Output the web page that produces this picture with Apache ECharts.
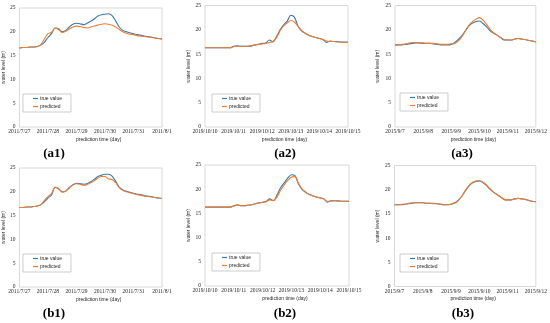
<!DOCTYPE html>
<html><head><meta charset="utf-8">
<script src="https://cdn.jsdelivr.net/npm/echarts@6/dist/echarts.min.js"></script>
<style>html,body{margin:0;padding:0;background:#fff}#c{width:550px;height:323px}</style>
</head><body><div id="c"></div>
<script>
// time step between samples: 3 hours (1/8 day)
const stepDay = 0.125;
const datesA1 = ['2011/7/27','2011/7/28','2011/7/29','2011/7/30','2011/7/31','2011/8/1'];
const datesA2 = ['2019/10/10','2019/10/11','2019/10/12','2019/10/13','2019/10/14','2019/10/15'];
const datesA3 = ['2015/9/7','2015/9/8','2015/9/9','2015/9/10','2015/9/11','2015/9/12'];
const yTicks = [0,5,10,15,20,25];

const a1True = [16.6,16.7,16.7,16.8,16.8,16.9,17.2,17.8,18.8,19.6,20.8,20.5,20.0,20.3,21.0,21.6,21.8,21.7,21.5,21.8,22.2,22.7,23.3,23.6,23.7,23.8,23.4,22.3,21.0,20.3,20.0,19.8,19.6,19.4,19.3,19.1,19.0,18.9,18.7,18.6,18.5];
const a1Pred = [16.6,16.7,16.7,16.8,16.8,16.9,17.3,18.5,19.6,19.9,20.8,20.7,19.8,20.1,20.6,21.0,21.2,21.1,20.9,20.8,21.0,21.2,21.4,21.6,21.7,21.6,21.4,21.0,20.5,20.0,19.7,19.5,19.4,19.2,19.1,19.0,18.9,18.8,18.7,18.6,18.5];
const a2True = [16.3,16.3,16.3,16.3,16.3,16.3,16.3,16.3,16.6,16.7,16.6,16.6,16.6,16.7,16.9,17.0,17.2,17.3,17.9,17.5,18.6,20.0,21.0,21.8,23.0,22.6,20.8,19.8,19.3,18.9,18.6,18.4,18.2,18.0,17.4,17.7,17.6,17.6,17.5,17.5,17.5];
const a2Pred = [16.3,16.3,16.3,16.3,16.3,16.3,16.3,16.3,16.5,16.6,16.6,16.6,16.6,16.7,16.9,17.0,17.1,17.2,17.4,17.6,18.4,19.8,20.8,21.4,21.9,21.6,20.7,19.9,19.3,18.9,18.6,18.4,18.2,18.0,17.7,17.6,17.6,17.5,17.5,17.4,17.4];
const a3True = [16.9,16.9,16.9,17.0,17.1,17.2,17.3,17.3,17.2,17.2,17.2,17.1,17.0,16.9,16.9,16.9,17.0,17.4,18.0,18.8,19.8,20.8,21.4,21.7,21.8,21.3,20.6,19.8,19.3,18.9,18.4,17.9,17.9,17.9,18.1,18.2,18.1,18.0,17.8,17.7,17.5];
const a3Pred = [16.9,16.9,17.0,17.1,17.3,17.4,17.4,17.3,17.3,17.2,17.2,17.2,17.1,17.0,17.0,17.0,17.1,17.2,17.7,18.6,19.8,20.9,21.7,22.2,22.5,22.0,21.1,20.1,19.4,18.9,18.4,18.0,17.9,17.9,18.1,18.2,18.1,18.0,17.8,17.7,17.5];
const b1True = [16.7,16.7,16.8,16.8,16.9,17.0,17.3,17.9,18.7,19.3,20.9,20.6,20.0,20.2,20.9,21.5,21.8,21.7,21.6,21.7,22.1,22.6,23.2,23.5,23.7,23.7,23.3,22.2,21.0,20.4,20.1,19.9,19.7,19.5,19.4,19.2,19.1,19.0,18.8,18.7,18.6];
const b1Pred = [16.7,16.7,16.8,16.8,16.9,17.0,17.3,18.2,19.0,19.6,21.0,20.7,19.9,20.1,20.8,21.4,21.7,21.6,21.4,21.5,21.9,22.3,22.9,23.2,23.2,22.7,22.6,21.9,20.9,20.3,20.0,19.8,19.6,19.4,19.3,19.1,19.0,18.9,18.8,18.7,18.6];
const b2True = [16.3,16.3,16.3,16.3,16.3,16.3,16.3,16.3,16.6,16.8,16.6,16.6,16.7,16.8,17.0,17.2,17.3,17.5,18.0,17.6,18.8,20.3,21.3,22.3,23.0,22.8,21.0,19.9,19.3,18.9,18.6,18.4,18.2,18.0,17.3,17.6,17.6,17.6,17.5,17.5,17.5];
const b2Pred = [16.3,16.3,16.3,16.3,16.3,16.3,16.3,16.3,16.5,16.7,16.6,16.6,16.7,16.8,17.0,17.1,17.3,17.4,17.8,17.7,18.4,19.8,20.9,21.8,22.5,22.6,21.2,20.0,19.4,18.9,18.6,18.4,18.2,18.0,17.5,17.5,17.6,17.5,17.5,17.5,17.5];
const b3True = [16.9,16.9,16.9,17.0,17.1,17.2,17.3,17.3,17.3,17.2,17.2,17.2,17.1,17.0,16.9,16.9,17.0,17.3,17.8,18.6,19.7,20.7,21.4,21.7,21.8,21.5,20.9,20.1,19.5,19.0,18.5,18.0,17.9,17.9,18.1,18.2,18.1,18.0,17.8,17.6,17.5];
const b3Pred = [16.9,16.9,17.0,17.0,17.2,17.3,17.3,17.3,17.3,17.2,17.2,17.1,17.1,17.0,16.9,16.9,17.0,17.2,17.7,18.6,19.8,20.8,21.5,21.8,21.9,21.6,21.0,20.2,19.5,19.0,18.5,18.0,17.9,17.9,18.1,18.2,18.1,18.0,17.8,17.6,17.5];

const seriesNames = ['true value','predicted'];
const panelLabels = ['(a1)','(a2)','(a3)','(b1)','(b2)','(b3)'];
const xTitle = 'prediction time (day)';
const yTitle = 'water level (m)';

// layout
const panels = [
  {grid:{left:17,top:8,width:145,height:119}, dates:datesA1, t:a1True, p:a1Pred, leg:[23,94], lab:[54,154], yGap:12},
  {grid:{left:205,top:5.5,width:143,height:121.5}, dates:datesA2, t:a2True, p:a2Pred, leg:[212,94], lab:[285,154], yGap:12},
  {grid:{left:395,top:5.5,width:142.5,height:121.5}, dates:datesA3, t:a3True, p:a3Pred, leg:[400,93], lab:[462,154], yGap:15},
  {grid:{left:17,top:168,width:145,height:119}, dates:datesA1, t:b1True, p:b1Pred, leg:[23,254], lab:[54,314], yGap:12},
  {grid:{left:205,top:165,width:144,height:121}, dates:datesA2, t:b2True, p:b2Pred, leg:[212,253], lab:[285,314], yGap:12},
  {grid:{left:394.5,top:165.5,width:143,height:121}, dates:datesA3, t:b3True, p:b3Pred, leg:[400,254], lab:[463,314], yGap:14}
];
const colors = ['#3a78ad','#ed7d31'];
const txt = '#262626';

const option = {animation:false, backgroundColor:'#fff', grid:[], xAxis:[], yAxis:[], series:[], legend:[], graphic:[]};
panels.forEach((pn,i)=>{
  option.grid.push(Object.assign({show:true, borderColor:'#d9d9d9', borderWidth:1, backgroundColor:'#fff'}, pn.grid));
  option.xAxis.push({type:'value', gridIndex:i, min:0, max:pn.dates.length-1, interval:1,
    axisLine:{show:false}, axisTick:{show:false}, splitLine:{show:false},
    axisLabel:{margin:2, fontSize:5.5, fontFamily:'Liberation Serif', color:txt, formatter:v=>pn.dates[v], showMinLabel:true, showMaxLabel:true, hideOverlap:false},
    name:xTitle, nameLocation:'middle', nameGap:10,
    nameTextStyle:{fontSize:5, fontFamily:'Liberation Sans', color:txt, padding:[0,0,0,16]}});
  option.yAxis.push({type:'value', gridIndex:i, min:yTicks[0], max:yTicks[yTicks.length-1], interval:yTicks[1]-yTicks[0],
    axisLine:{show:false}, axisTick:{show:false}, splitLine:{show:false},
    axisLabel:{margin:4, fontSize:5.5, fontFamily:'Liberation Serif', color:txt},
    name:yTitle, nameLocation:'middle', nameGap:pn.yGap, nameRotate:90,
    nameTextStyle:{fontSize:5, fontFamily:'Liberation Sans', color:txt}});
  [pn.t, pn.p].forEach((arr,k)=>{
    option.series.push({type:'line', name:seriesNames[k], xAxisIndex:i, yAxisIndex:i,
      data:arr.map((v,j)=>[j*stepDay, v]), showSymbol:false, symbol:'none', smooth:0.3,
      lineStyle:{width:1.1, color:colors[k]}, itemStyle:{color:colors[k]}});
  });
  option.legend.push({left:pn.leg[0], top:pn.leg[1], orient:'vertical', data:seriesNames,
    backgroundColor:'#fff', borderColor:'#bfbfbf', borderWidth:0.8,
    padding:[2,9,3,10], itemGap:3, itemWidth:5, itemHeight:1.2, icon:'rect', selectedMode:false,
    textStyle:{fontSize:5, fontFamily:'Liberation Sans', color:txt, padding:[0,0,0,-3]}});
  option.graphic.push({type:'text', x:pn.lab[0], y:pn.lab[1],
    style:{text:panelLabels[i], fill:'#000', font:'bold 13px "Liberation Serif"', align:'center', verticalAlign:'middle'}});
});
option.color = colors;
const chart = echarts.init(document.getElementById('c'), null, {renderer:'canvas'});
chart.setOption(option);
</script></body></html>
